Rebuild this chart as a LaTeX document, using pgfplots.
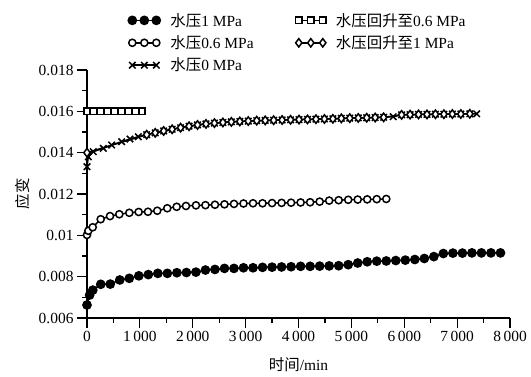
\documentclass[border=0pt]{standalone}
\usepackage{fontspec}
\setmainfont{Liberation Serif}
\newfontfamily\cjk{Noto Sans CJK SC}
\usepackage{pgfplots}
\pgfplotsset{compat=1.18}
\begin{document}
\begin{tikzpicture}
\useasboundingbox (0,0) rectangle (531bp,377bp);
\begin{axis}[
  at={(87bp,59bp)}, anchor=south west,
  scale only axis, width=423bp, height=248bp,
  xmin=0, xmax=8000, ymin=0.006, ymax=0.018,
  axis lines=left, axis line style={line width=1.2pt,-},
  tick align=outside, tick pos=left,
  major tick length=10bp, minor tick length=5bp,
  every tick/.style={line width=1.2pt,black},
  xtick={0,1000,...,8000}, minor x tick num=1,
  ytick={0.006,0.008,0.010,0.012,0.014,0.016,0.018},
  yticklabels={0.006,0.008,0.01,0.012,0.014,0.016,0.018},
  minor y tick num=1,
  scaled x ticks=false, scaled y ticks=false,
  /pgf/number format/assume math mode=true,
  /pgf/number format/1000 sep={\,},
  tick label style={font=\fontsize{15.5}{18}\selectfont},
  label style={font=\fontsize{15.5}{18}\selectfont},
  xlabel={{\cjk 时间}/min},
  xlabel style={yshift=-9bp},
  ylabel={\cjk 应变},
  ylabel style={yshift=2bp},
  legend style={at={(0.097,1.238)}, anchor=north west, draw=none, fill=none,
    font=\fontsize{15.5}{18}\selectfont, inner sep=0pt, row sep=4bp,
    /tikz/every odd column/.style={column sep=8bp},
    /tikz/column 2/.style={column sep=40bp}},
  legend cell align=left,
  legend columns=3, transpose legend,
  legend image code/.code={\draw[mark repeat=1,mark phase=1,#1] plot coordinates {(0bp,0bp) (12bp,0bp) (24bp,0bp)};},
  every axis plot/.append style={line width=1.5pt, black, mark options={solid}},
]
\addplot[mark=*, mark size=4.1pt] coordinates {
(0,0.00663)(50,0.00711)(110,0.00735)(260,0.00763)(440,0.00764)(620,0.00784)(800,0.00792)(980,0.00804)(1160,0.0081)(1340,0.00816)(1520,0.00816)(1700,0.00819)(1880,0.0082)(2060,0.00822)(2240,0.00832)(2420,0.00835)(2600,0.0084)(2780,0.0084)(2960,0.00843)(3140,0.00843)(3320,0.00845)(3500,0.00846)(3680,0.00847)(3860,0.00848)(4040,0.0085)(4220,0.0085)(4400,0.00851)(4580,0.00852)(4760,0.00853)(4940,0.00858)(5120,0.00866)(5300,0.00872)(5480,0.00875)(5660,0.00876)(5840,0.00878)(6020,0.0088)(6200,0.00883)(6380,0.00888)(6560,0.00897)(6740,0.00912)(6920,0.00914)(7100,0.00914)(7280,0.00915)(7460,0.00915)(7640,0.00915)(7820,0.00915)};
\addlegendentry{{\cjk 水压}1 MPa}
\addplot[mark=*, mark size=3.6pt, mark options={fill=white}] coordinates {
(0,0.01002)(25,0.01022)(108,0.01039)(259,0.01078)(435,0.01093)(611,0.01102)(800,0.01109)(977,0.01113)(1153,0.01114)(1329,0.01119)(1518,0.01131)(1696,0.01138)(1872,0.01142)(2061,0.01145)(2240,0.01146)(2420,0.01148)(2600,0.0115)(2780,0.01152)(2960,0.01154)(3140,0.01155)(3320,0.01155)(3500,0.01156)(3680,0.01157)(3860,0.01158)(4040,0.01159)(4220,0.0116)(4400,0.01163)(4580,0.01168)(4760,0.0117)(4940,0.01172)(5120,0.01173)(5300,0.01174)(5480,0.01175)(5660,0.01176)};
\addlegendentry{{\cjk 水压}0.6 MPa}
\addplot[mark=x, mark size=4.6pt] coordinates {
(0,0.01332)(25,0.0138)(119,0.01405)(308,0.01421)(467,0.01437)(656,0.01453)(813,0.01466)(970,0.01477)(1129,0.01487)(1290,0.01496)(1450,0.01505)(1610,0.01513)(1770,0.01521)(1930,0.01528)(2090,0.01534)(2250,0.01539)(2410,0.01543)(2570,0.01546)(2730,0.01549)(2890,0.01551)(3050,0.01553)(3210,0.01555)(3370,0.01556)(3530,0.01557)(3690,0.01558)(3850,0.01559)(4010,0.0156)(4170,0.01561)(4330,0.01562)(4490,0.01563)(4650,0.01564)(4810,0.01566)(4970,0.01567)(5130,0.01568)(5290,0.01569)(5450,0.0157)(5610,0.01571)(5790,0.01574)(5950,0.01583)(6110,0.01584)(6270,0.01585)(6430,0.01585)(6590,0.01586)(6750,0.01586)(6910,0.01587)(7070,0.01587)(7240,0.01588)(7370,0.01588)};
\addlegendentry{{\cjk 水压}0 MPa}
\addplot[mark=square*, mark size=3.2pt, mark options={fill=white}] coordinates {
(0,0.016)(130,0.016)(260,0.016)(390,0.016)(520,0.016)(650,0.016)(780,0.016)(910,0.016)(1040,0.016)};
\addlegendentry{{\cjk 水压回升至}0.6 MPa}
\addplot[mark=diamond*, mark size=4.2pt, mark options={fill=white}] coordinates {
(0,0.0140)(1129,0.01487)(1290,0.01496)(1450,0.01505)(1610,0.01513)(1770,0.01521)(1930,0.01528)(2090,0.01534)(2250,0.01539)(2410,0.01543)(2570,0.01546)(2730,0.01549)(2890,0.01551)(3050,0.01553)(3210,0.01555)(3370,0.01556)(3530,0.01557)(3690,0.01558)(3850,0.01559)(4010,0.0156)(4170,0.01561)(4330,0.01562)(4490,0.01563)(4650,0.01564)(4810,0.01566)(4970,0.01567)(5130,0.01568)(5290,0.01569)(5450,0.0157)(5610,0.01571)(5950,0.01583)(6110,0.01584)(6270,0.01585)(6430,0.01585)(6590,0.01586)(6750,0.01586)(6910,0.01587)(7070,0.01587)(7240,0.01588)};
\addlegendentry{{\cjk 水压回升至}1 MPa}
\end{axis}
\end{tikzpicture}
\end{document}
